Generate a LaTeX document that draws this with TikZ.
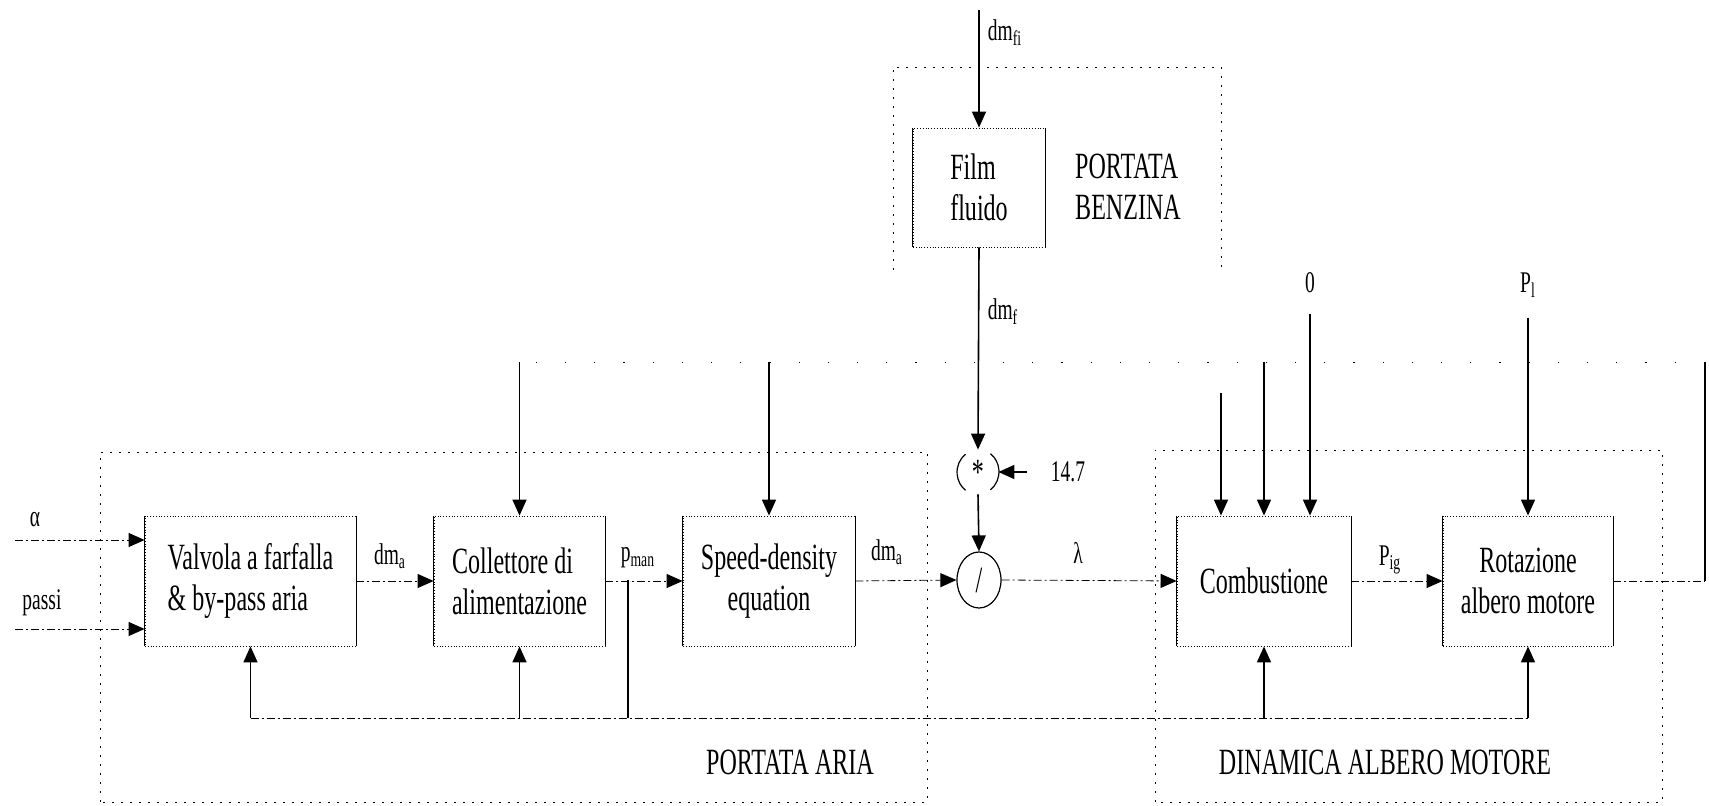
\documentclass[tikz,border=0pt]{standalone}
\usepackage{fontspec}
\setmainfont{Liberation Serif}[FakeStretch=0.65]
\usetikzlibrary{arrows.meta, positioning, calc, shapes}

\begin{document}
\begin{tikzpicture}[
            x=0.5pt,
            y=-0.5pt,
            >={Triangle[length=8pt,width=7pt]},
            every node/.style={font=\fontsize{18.5pt}{20.5pt}\selectfont},
            blk/.style={draw, densely dotted, minimum height=65pt, inner sep=0pt},
            lbl/.style={font=\fontsize{15pt}{17pt}\selectfont, inner sep=0pt},
            sig/.style={thin, dash pattern=on 4pt off 1.5pt on 1pt off 1.5pt},
            zone/.style={thin, dash pattern=on 1pt off 3.5pt},
            faint/.style={very thin, dash pattern=on 0.6pt off 14pt},
            arr/.style={->, thick}
            ]
            \useasboundingbox (0,0) rectangle (1709,806);

            % blocchi
            \node[blk, minimum width=105.5pt, align=left] (valv) at (250.5,581) {Valvola a farfalla\\\& by-pass aria};
            \node[blk, minimum width=85.5pt, align=left] (coll) at (519.5,581) {Collettore di\\alimentazione};
            \node[blk, minimum width=86pt, align=center] (sde) at (769,581) {Speed-density\\equation};
            \node[blk, minimum width=66pt, minimum height=59.5pt, align=left] (film) at (979,187.5) {Film\\fluido};
            \node[blk, minimum width=87pt] (comb) at (1264,581) {Combustione};
            \node[blk, minimum width=85pt, align=center] (rot) at (1528,581) {Rotazione\\albero motore};

            \foreach \b in {valv,coll,sde,film,comb,rot}
                \draw[thick] (\b.north west) -- (\b.south west) (\b.north east) -- (\b.south east);

            % moltiplicatore e divisore
            \node[ellipse, minimum width=20pt, minimum height=22pt, inner sep=0pt] (mult) at (978,472) {*};
            \draw[semithick] (mult.125) arc[start angle=125, end angle=235, x radius=10pt, y radius=11pt];
            \draw[semithick] (mult.-55) arc[start angle=-55, end angle=55, x radius=10pt, y radius=11pt];
            \node[ellipse, draw, semithick, minimum width=22pt, minimum height=28pt, inner sep=0pt] (div) at (979,580) {/};

            % zone
            \draw[zone] (100,802) -- (100,452) -- (927,452) -- (927,802) -- cycle;
            \draw[zone] (1155,802) -- (1155,450) -- (1662,450) -- (1662,802) -- cycle;
            \draw[zone] (893,270) -- (893,67) -- (1221,67) -- (1221,270);
            \node[align=left] (benz) at (1128,187) {PORTATA\\BENZINA};
            \node (aria) at (790,762) {PORTATA ARIA};
            \node (dinam) at (1385,762) {DINAMICA ALBERO MOTORE};

            % etichette
            \node[lbl] (alpha) at (35,520) {α};
            \node[lbl] (passi) at (42,603) {passi};
            \node[lbl] (dmat) at (390,556) {dm\textsubscript{a}};
            \node[lbl] (pman) at (638,558) {p\textsubscript{man}};
            \node[lbl] (dmap) at (887,552) {dm\textsubscript{a}};
            \node[lbl] (dmfi) at (1005,33) {dm\textsubscript{fi}};
            \node[lbl] (dmf) at (1003,312) {dm\textsubscript{f}};
            \node[lbl] (k147) at (1068,472) {14.7};
            \node[lbl] (lam) at (1078,553) {λ};
            \node[lbl] (pig) at (1390,560) {P\textsubscript{ig}};
            \node[lbl] (theta) at (1310,283) {0};
            \node[lbl] (pl) at (1528,285) {P\textsubscript{l}};

            % ingressi
            \coordinate (inA) at (15,540);
            \coordinate (inP) at (15,629);
            \coordinate (fi) at (979,10);
            \draw[sig, ->] (inA) -- (inA -| valv.west);
            \draw[sig, ->] (inP) -- (inP -| valv.west);
            \draw[arr] (fi) -- (film.north);
            \draw[arr] (film.south) -- (mult.north);
            \draw[arr, shorten <=12pt] (k147.west) -- (mult.east);
            \draw[arr] (mult.south) -- (div.north);

            % catena principale
            \draw[sig, ->] (valv.east) -- (coll.west);
            \draw[sig, ->] (coll.east) -- (sde.west);
            \draw[sig, ->] (sde.east) -- (div.west);
            \draw[sig, ->] (div.east) -- (comb.west);
            \draw[sig, ->] (comb.east) -- (rot.west);

            % retroazione giri
            \coordinate (nR) at (1705,362);
            \draw[sig] (rot.east) -- (nR |- rot.east);
            \draw[thick] (nR |- rot.east) -- (nR);
            \draw[faint] (nR) -- (coll.north |- nR);
            \foreach \b in {coll,sde,comb}
                \draw[arr] (\b.north |- nR) -- (\b.north);
            \coordinate (c1) at (1221,393);
            \draw[arr] (c1) -- (c1 |- comb.north);
            \draw[arr] ([yshift=-10pt]theta.south) -- (theta.south |- comb.north);
            \draw[arr] ([yshift=-10pt]pl.south) -- (rot.north);

            % retroazione pressione
            \coordinate (pm) at (628,580);
            \coordinate (fb) at (628,718);
            \draw[thick] (pm) -- (fb);
            \draw[sig] (valv.south |- fb) -- (rot.south |- fb);
            \foreach \b in {valv,coll,comb,rot}
                \draw[arr] (\b.south |- fb) -- (\b.south);
        \end{tikzpicture}
\end{document}
